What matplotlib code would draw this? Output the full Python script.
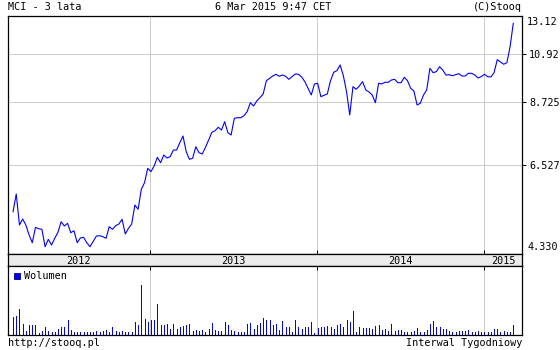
import matplotlib
matplotlib.use("Agg")
import matplotlib.pyplot as plt
from matplotlib.patches import Rectangle
import pandas as pd

# ---- data (weekly closes and volumes) ----
close = [5.244, 5.694, 4.930, 5.069, 4.930, 4.706, 4.540, 4.877, 4.845, 4.832,
         4.457, 4.612, 4.492, 4.634, 4.765, 5.006, 4.907, 4.969, 4.756, 4.801,
         4.540, 4.641, 4.655, 4.540, 4.457, 4.570, 4.684, 4.690, 4.669, 4.634,
         4.891, 4.832, 4.914, 4.953, 5.062, 4.728, 4.854, 4.953, 5.411, 5.303,
         5.820, 6.002, 6.417, 6.317, 6.486, 6.753, 6.586, 6.826, 6.732, 6.772,
         6.987, 6.987, 7.228, 7.457, 6.932, 6.691, 6.723, 7.095, 6.900, 6.859,
         7.075, 7.320, 7.587, 7.644, 7.766, 7.668, 7.970, 7.573, 7.492, 8.097,
         8.120, 8.120, 8.196, 8.350, 8.707, 8.574, 8.776, 8.911, 9.067, 9.645,
         9.753, 9.858, 9.937, 9.844, 9.903, 9.844, 9.707, 9.826, 9.950, 9.937,
         9.812, 9.601, 9.311, 9.025, 9.499, 9.529, 8.954, 9.013, 9.067, 9.645,
         10.030, 10.105, 10.376, 9.871, 9.165, 8.223, 9.380, 9.267, 9.411, 9.601,
         9.238, 9.152, 9.025, 8.707, 9.529, 9.499, 9.574, 9.574, 9.677, 9.707,
         9.556, 9.556, 9.798, 9.645, 9.311, 9.194, 8.614, 8.683, 9.025, 9.238,
         10.218, 10.011, 10.058, 10.294, 10.138, 9.903, 9.917, 9.871, 9.917, 9.964,
         9.858, 9.858, 9.982, 9.982, 9.903, 9.767, 9.826, 9.937, 9.826, 9.812,
         10.011, 10.635, 10.522, 10.410, 10.487, 11.298, 12.597]

volume = [53, 56, 76, 33, 13, 28, 28, 30, 6, 13,
          25, 13, 10, 10, 18, 23, 23, 43, 16, 10,
          10, 8, 8, 8, 10, 8, 12, 10, 12, 16,
          10, 23, 13, 10, 13, 10, 10, 10, 38, 30,
          148, 46, 38, 43, 43, 91, 28, 28, 33, 18,
          31, 18, 23, 26, 28, 31, 13, 16, 13, 16,
          8, 18, 35, 15, 13, 13, 38, 30, 15, 12,
          10, 10, 10, 32, 35, 18, 28, 35, 50, 45,
          43, 28, 32, 16, 40, 23, 23, 10, 43, 23,
          18, 25, 23, 38, 6, 21, 23, 23, 26, 25,
          18, 30, 31, 23, 43, 38, 70, 10, 25, 22,
          22, 22, 18, 26, 28, 16, 18, 13, 31, 13,
          16, 14, 10, 10, 8, 13, 21, 8, 10, 16,
          33, 40, 23, 23, 18, 18, 13, 10, 10, 11,
          12, 12, 15, 8, 10, 13, 10, 10, 8, 10,
          18, 18, 10, 12, 10, 10, 28]

price_ticks = [6.527, 8.725, 10.92]
price_tick_labels = ["6.527", "8.725", "10.92"]
range_labels = ["13.12", "4.330"]
years = ["2012", "2013", "2014", "2015"]

dates = pd.date_range(end="2015-03-06", periods=len(close), freq="7D")

# ---- styling ----
FONT = "DejaVu Sans Mono"
FS = 7.3
plt.rcParams["font.family"] = [FONT]
BLUE = "#0000ff"
GRID = "#cccccc"
PX = 0.72  # one pixel in points at 100 dpi

W, H = 560, 350
fig = plt.figure(figsize=(W / 100, H / 100), dpi=100)
fig.patch.set_facecolor("white")


def fr(x0, y0, x1, y1):
    return [x0 / W, 1 - y1 / H, (x1 - x0) / W, (y1 - y0) / H]


xmin = pd.Timestamp("2012-02-27")
xmax = pd.Timestamp("2015-03-25")
year_starts = [pd.Timestamp(f"{y}-01-01") for y in (2013, 2014, 2015)]

ax = fig.add_axes(fr(8, 16, 522, 254))
axs = fig.add_axes(fr(8, 254, 522, 266))
axv = fig.add_axes(fr(8, 266, 522, 335))

# main price panel
ax.plot(dates, close, color=BLUE, lw=0.8)
ax.set_yscale("log")
ax.set_ylim(4.308, 13.03)
ax.set_xlim(xmin, xmax)
ax.yaxis.set_minor_locator(matplotlib.ticker.NullLocator())
ax.set_yticks(price_ticks)
ax.set_yticklabels(price_tick_labels, fontsize=FS)
ax.yaxis.tick_right()
ax.tick_params(axis="y", which="both", direction="out", length=3, width=PX,
               pad=2, right=True, left=False, labelright=True, labelleft=False)
ax.set_xticks(year_starts)
ax.tick_params(axis="x", direction="in", length=3, width=PX, bottom=True,
               top=False, labelbottom=False)
ax.grid(True, color=GRID, lw=PX)
ax.set_axisbelow(True)
for s in ax.spines.values():
    s.set_color("black")
    s.set_linewidth(0.9)

fig.text(527 / W, 1 - 22 / H, range_labels[0], fontsize=FS, va="center", ha="left")
fig.text(527 / W, 1 - 247 / H, range_labels[1], fontsize=FS, va="center", ha="left")

# year strip
axs.set_facecolor("#ebebeb")
axs.set_xlim(xmin, xmax)
axs.set_ylim(0, 1)
axs.set_xticks([])
axs.set_yticks([])
bounds = [xmin] + year_starts + [xmax]
for i, y in enumerate(years):
    a, b = bounds[i], bounds[i + 1]
    mid = a + (b - a) / 2
    axs.text(mid, 0.45, y, fontsize=FS, ha="center", va="center")
for s in axs.spines.values():
    s.set_color("black")
    s.set_linewidth(0.9)

# volume panel
axv.vlines(dates, 0, volume, color=BLUE, lw=PX, antialiased=False)
axv.set_xlim(xmin, xmax)
axv.set_ylim(0, 203)
axv.set_yticks([])
axv.set_xticks(year_starts)
axv.tick_params(axis="x", direction="in", length=3, width=PX, top=True,
                bottom=False, labelbottom=False)
axv.grid(True, axis="x", color=GRID, lw=PX)
axv.set_axisbelow(True)
for s in axv.spines.values():
    s.set_color("black")
    s.set_linewidth(0.9)
axv.add_patch(Rectangle((14 / W, 1 - 279 / H), 6 / W, 6 / H,
                        transform=fig.transFigure, facecolor=BLUE,
                        edgecolor="#000080", lw=0.6, clip_on=False))
fig.text(24 / W, 1 - 276 / H, "Wolumen", fontsize=FS, va="center", ha="left")

# header / footer
fig.text(8 / W, 1 - 7 / H, "MCI - 3 lata", fontsize=FS, va="center", ha="left")
fig.text(273 / W, 1 - 7 / H, "6 Mar 2015 9:47 CET", fontsize=FS, va="center", ha="center")
fig.text(522 / W, 1 - 7 / H, "(C)Stooq", fontsize=FS, va="center", ha="right")
fig.text(8 / W, 1 - 343 / H, "http://stooq.pl", fontsize=FS, va="center", ha="left")
fig.text(522 / W, 1 - 343 / H, "Interwal Tygodniowy", fontsize=FS, va="center", ha="right")

fig.savefig("out.png", dpi=100, facecolor="white")
